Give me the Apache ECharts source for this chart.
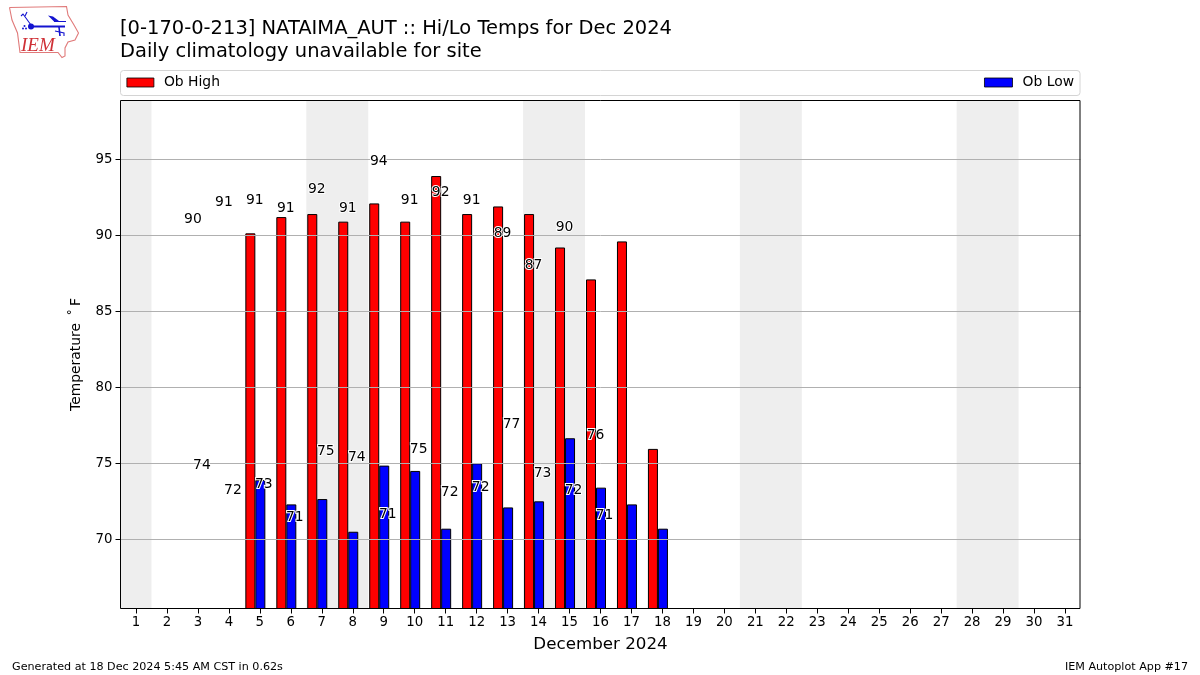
<!DOCTYPE html>
<html>
<head>
<meta charset="utf-8">
<style>html,body{margin:0;padding:0;background:#fff}#chart{width:1200px;height:675px}</style>
<script src="https://cdn.jsdelivr.net/npm/echarts@6/dist/echarts.min.js"></script>
</head>
<body>
<div id="chart"></div>
<script>
const days = ['1','2','3','4','5','6','7','8','9','10','11','12','13','14','15','16','17','18','19','20','21','22','23','24','25','26','27','28','29','30','31'];
const obHigh = [null,null,null,null,90.13,91.2,91.4,90.9,92.1,90.9,93.9,91.4,91.9,91.4,89.2,87.1,89.6,75.95];
const obLow  = [null,null,null,null,73.9,72.3,72.65,70.5,74.85,74.5,70.7,75.0,72.1,72.5,76.65,73.4,72.3,70.7];
const weekendSpans = [['1','1'],['7','8'],['14','15'],['21','22'],['28','29']];
const yTicks = [70,75,80,85,90,95];
const yMin = 65.45, yMax = 98.87;
// text annotations: day, height on the temperature axis, printed value
const highLabelDays = ['3','4','5','6','7','8','9','10','11','12','13','14','15','16'];
const highLabelAt   = [91.15,92.25,92.4,91.88,93.13,91.88,94.95,92.4,92.95,92.4,90.25,88.1,90.63,76.94];
const highLabelText = ['90','91','91','91','92','91','94','91','92','91','89','87','90','76'];
const lowLabelDays = ['3','4','5','6','7','8','9','10','11','12','13','14','15','16'];
const lowLabelAt   = [74.97,73.32,73.7,71.53,75.87,75.49,71.72,76.04,73.17,73.52,77.64,74.42,73.32,71.7];
const lowLabelText = ['74','72','73','71','75','74','71','75','72','72','77','73','72','71'];

const font = '"DejaVu Sans", sans-serif';
const zip3 = (a,b,c) => a.map((d,i)=>[d,b[i],c[i]]);
const labelSeries = (name, rows, dx) => ({
  type:'custom', name, data:rows, z:6, silent:true, clip:false, encode:{x:0,y:1},
  renderItem:(params,api)=>{
    const p = api.coord([api.value(0), api.value(1)]);
    const base = {text:rows[params.dataIndex][2], x:p[0]+dx, y:p[1]+1.5, align:'center', verticalAlign:'middle',
                  font:'13.9px "DejaVu Sans", sans-serif'};
    return {type:'group', children:[
      {type:'text', style:Object.assign({}, base, {fill:'#fff', stroke:'#fff', lineWidth:2})},
      {type:'text', style:Object.assign({}, base, {fill:'#000'})}
    ]};
  }
});

const chart = echarts.init(document.getElementById('chart'), null, {renderer:'canvas'});
chart.setOption({
  animation:false,
  backgroundColor:'#fff',
  title:[
    {text:'[0-170-0-213] NATAIMA_AUT :: Hi/Lo Temps for Dec 2024\nDaily climatology unavailable for site',
     left:120, top:17, padding:0, textStyle:{fontFamily:font, fontSize:19.48, fontWeight:'normal', color:'#000', lineHeight:23.5}},
    {text:'Generated at 18 Dec 2024 5:45 AM CST in 0.62s', left:12, top:662, padding:0,
     textStyle:{fontFamily:font, fontSize:11.15, fontWeight:'normal', color:'#000'}},
    {text:'IEM Autoplot App #17', right:12, top:662, padding:0,
     textStyle:{fontFamily:font, fontSize:11.15, fontWeight:'normal', color:'#000'}}
  ],
  legend:[
    {data:['Ob High'], left:126.5, top:75.5, padding:0, itemWidth:27, itemHeight:9, z:8, icon:'rect',
     itemStyle:{borderWidth:0.8},
     textStyle:{fontFamily:font, fontSize:13.9, color:'#000', padding:[0,0,0,5]}},
    {data:['Ob Low'], right:126, top:75.5, padding:0, itemWidth:28, itemHeight:9, z:8, icon:'rect',
     itemStyle:{borderWidth:0.8},
     textStyle:{fontFamily:font, fontSize:13.9, color:'#000', padding:[0,0,0,5]}}
  ],
  grid:{left:120.5, right:119.5, top:100.5, bottom:66.5, show:false},
  xAxis:{
    type:'category', data:days, boundaryGap:true, z:5,
    name:'December 2024', nameLocation:'middle', nameGap:28,
    nameTextStyle:{fontFamily:font, fontSize:16.7, color:'#000'},
    axisLine:{show:false},
    axisTick:{show:true, alignWithLabel:true, length:5, lineStyle:{color:'#000', width:1}},
    axisLabel:{interval:0, margin:8, fontFamily:font, fontSize:13.3, color:'#000'},
    splitLine:{show:false}
  },
  yAxis:{
    type:'value', min:yMin, max:yMax, z:3,
    name:'Temperature\u2009 ˚\u2009F', nameLocation:'middle', nameGap:37,
    nameTextStyle:{fontFamily:font, fontSize:13.9, color:'#000'},
    axisLine:{show:false},
    axisTick:{show:true, length:5, customValues:yTicks, lineStyle:{color:'#000', width:1}},
    axisLabel:{customValues:yTicks, margin:8, padding:[4,0,0,0], fontFamily:font, fontSize:13.3, color:'#000'},
    splitLine:{show:true, lineStyle:{color:'#b0b0b0', width:1}}
  },
  series:[
    {type:'custom', name:'weekend', z:1, silent:true, data:weekendSpans,
     clip:true, encode:{x:[0,1]},
     renderItem:(params,api)=>{
       const band = api.size([1,0])[0];
       const a = api.coord([api.value(0), yMax]);
       const b = api.coord([api.value(1), yMin]);
       return {type:'rect', shape:{x:a[0]-band/2, y:a[1], width:b[0]-a[0]+band, height:b[1]-a[1]},
         style:{fill:'#eeeeee'}};
     }},
    {type:'bar', name:'Ob High', data:obHigh, barWidth:10, barGap:0, z:2,
     itemStyle:{color:'#ff0000', borderColor:'#000', borderWidth:1}},
    {type:'bar', name:'Ob Low', data:obLow, barWidth:10, barGap:0, z:2,
     itemStyle:{color:'#0000ff', borderColor:'#000', borderWidth:1}},
    {type:'bar', name:'spacer', data:[], barWidth:9, barGap:0, silent:true},
    labelSeries('high labels', zip3(highLabelDays,highLabelAt,highLabelText), -5),
    labelSeries('low labels', zip3(lowLabelDays,lowLabelAt,lowLabelText), 4)
  ],
  graphic:[
    {type:'rect', z:0, silent:true, shape:{x:120.5,y:70.5,width:959.5,height:25,r:3},
     style:{fill:'#fff', stroke:'#d4d4d4', lineWidth:1}},
    {type:'rect', z:9, silent:true, shape:{x:120.5,y:100.5,width:959.5,height:508},
     style:{fill:'none', stroke:'#000', lineWidth:1}},
    {type:'polyline', z:9, silent:true,
     shape:{points:[[9.5,7.5],[66.5,6.5],[68,15],[74,25],[78.5,33],[75,40],[68,42],[65,48],[65,56],[62,57.5],[58,52.5],[20,52.5],[17.5,33],[12,20],[9.5,7.5]]},
     style:{fill:'none', stroke:'#e07a7a', lineWidth:1.1}},
    {type:'line', z:9, silent:true, shape:{x1:31,y1:26.5,x2:65,y2:26.5}, style:{stroke:'#1414d0', lineWidth:1.8}},
    {type:'circle', z:9, silent:true, shape:{cx:31,cy:26.5,r:3}, style:{fill:'#1414d0'}},
    {type:'polygon', z:9, silent:true, shape:{points:[[48,15.5],[53,16.5],[59,21],[54,21.5]]}, style:{fill:'#1414d0'}},
    {type:'line', z:9, silent:true, shape:{x1:54,y1:21.5,x2:66,y2:21.5}, style:{stroke:'#1414d0', lineWidth:1}},
    {type:'polyline', z:9, silent:true, shape:{points:[[31,25],[23,14],[21,16]]}, style:{fill:'none', stroke:'#1414d0', lineWidth:1.1}},
    {type:'polyline', z:9, silent:true, shape:{points:[[25,16],[27,12]]}, style:{fill:'none', stroke:'#1414d0', lineWidth:1.1}},
    {type:'polyline', z:9, silent:true, shape:{points:[[59,27],[60,36]]}, style:{fill:'none', stroke:'#1414d0', lineWidth:1.6}},
    {type:'polyline', z:9, silent:true, shape:{points:[[55,31],[64,33],[64,36]]}, style:{fill:'none', stroke:'#1414d0', lineWidth:1.1}},
    {type:'circle', z:9, silent:true, shape:{cx:24.5,cy:26,r:1}, style:{fill:'#1414d0'}},
    {type:'circle', z:9, silent:true, shape:{cx:23,cy:28.5,r:1}, style:{fill:'#1414d0'}},
    {type:'circle', z:9, silent:true, shape:{cx:26,cy:28.5,r:1}, style:{fill:'#1414d0'}},
    {type:'text', z:9, silent:true, left:21, top:36,
     style:{text:'IEM', fill:'#cf3036', font:'italic 19px "Liberation Serif", serif'}}
  ]
});
</script>
</body>
</html>
